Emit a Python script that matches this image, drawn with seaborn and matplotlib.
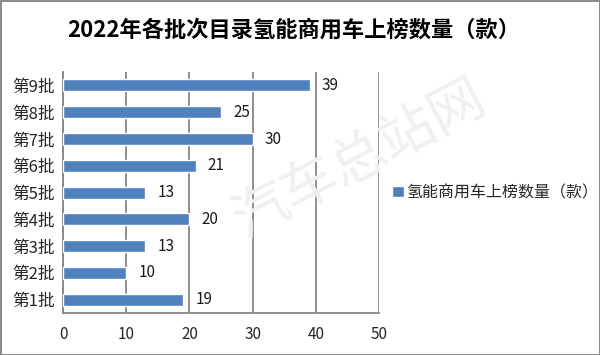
import matplotlib
matplotlib.use("Agg")
import matplotlib.pyplot as plt
import seaborn as sns
import pandas as pd

batches = ["第9批", "第8批", "第7批", "第6批", "第5批", "第4批", "第3批", "第2批", "第1批"]
counts = [39, 25, 30, 21, 13, 20, 13, 10, 19]
series_name = "氢能商用车上榜数量（款）"
title = "2022年各批次目录氢能商用车上榜数量（款）"

df = pd.DataFrame({"batch": batches, "count": counts, "series": series_name})

sns.set_style("white")
plt.rcParams["font.family"] = ["Noto Sans CJK SC", "DejaVu Sans"]

fig = plt.figure(figsize=(6, 3.55), dpi=100)
fig.patch.set_facecolor("white")
fig.patch.set_edgecolor("#8c8c8c")
fig.patch.set_linewidth(2)

ax = fig.add_axes([0.105, 0.118, 0.527, 0.679])
sns.barplot(data=df, y="batch", x="count", hue="series", orient="h",
            palette=["#4f81bd"], width=0.45, ax=ax, saturation=1, zorder=3)

ax.set_xlim(0, 50)
ax.set_xticks([0, 10, 20, 30, 40, 50])
ax.set_xlabel("")
ax.set_ylabel("")
ax.grid(axis="x", color="#868686", linewidth=1.3, zorder=0)
ax.grid(axis="y", visible=False)
for s in ["top", "right"]:
    ax.spines[s].set_visible(False)
for s in ["left", "bottom"]:
    ax.spines[s].set_color("#868686")
    ax.spines[s].set_linewidth(1.3)

# ticks at category boundaries on y axis
ax.set_yticks(range(len(batches)))
ax.set_yticklabels(batches, fontsize=12)
ax.set_yticks([i - 0.5 for i in range(len(batches) + 1)], minor=True)
ax.tick_params(axis="y", which="major", length=0, pad=6)
ax.tick_params(axis="y", which="minor", length=5, color="#868686", width=1.2)
ax.tick_params(axis="x", length=5, color="#868686", width=1.2, labelsize=11, pad=4)
ax.set_ylim(len(batches) - 0.5, -0.5)

for i, v in enumerate(counts):
    ax.text(v + 1.9, i, str(v), va="center", ha="left", fontsize=11,
            color="#1a1a1a", zorder=4)

ax.legend(loc="center left", bbox_to_anchor=(0.995, 0.5), frameon=False,
          fontsize=11.5, handlelength=0.75, handleheight=0.75, handletextpad=0.1)

fig.text(0.49, 0.915, title, ha="center", va="center", fontsize=16,
         fontweight="bold", color="#000000")

# faint watermark
fig.text(0.6, 0.55, "汽车总站网", ha="center", va="center", fontsize=40,
         rotation=28, color="#f0f0f0", zorder=0)

fig.savefig("out.png", dpi=100, facecolor=fig.get_facecolor(),
            edgecolor=fig.get_edgecolor())
